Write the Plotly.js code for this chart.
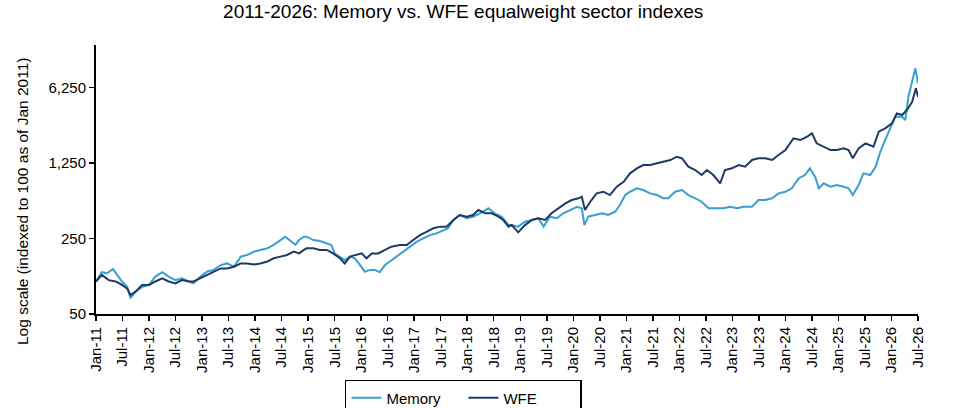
<!DOCTYPE html>
<html>
<head>
<meta charset="utf-8">
<script src="https://cdn.plot.ly/plotly-3.0.1.min.js"></script>
<style>
  body { margin: 0; background: #fff; }
  #chart_myDiv { width: 959px; height: 408px; }
</style>
</head>
<body>
<div id="chart_myDiv"></div>
<script>
// memory equalweight index, x in decimal years
var memYears = [2011.00,2011.11,2011.21,2011.32,2011.40,2011.49,2011.59,2011.65,2011.74,2011.87,
  2012.00,2012.12,2012.25,2012.37,2012.50,2012.62,2012.75,2012.84,2012.97,
  2013.09,2013.22,2013.35,2013.47,2013.60,2013.73,2013.85,2013.98,
  2014.10,2014.23,2014.35,2014.48,2014.57,2014.67,2014.76,2014.83,2014.92,2014.97,
  2015.10,2015.22,2015.35,2015.44,2015.50,2015.60,2015.69,2015.79,2015.88,2015.98,
  2016.07,2016.17,2016.26,2016.35,2016.45,2016.54,2016.67,2016.79,2016.92,
  2017.05,2017.17,2017.30,2017.42,2017.55,2017.64,2017.74,2017.86,2017.99,
  2018.11,2018.24,2018.40,2018.52,2018.65,2018.78,2018.84,2018.96,
  2019.09,2019.22,2019.34,2019.44,2019.56,2019.69,2019.81,2019.94,
  2020.07,2020.16,2020.21,2020.28,2020.41,2020.54,2020.66,2020.79,2020.88,2020.98,
  2021.07,2021.20,2021.32,2021.45,2021.58,2021.70,2021.79,2021.92,
  2022.05,2022.17,2022.30,2022.42,2022.55,2022.68,2022.83,2022.96,
  2023.09,2023.21,2023.37,2023.49,2023.62,2023.75,2023.87,
  2024.00,2024.12,2024.25,2024.37,2024.46,2024.56,2024.63,2024.72,2024.85,2024.97,
  2025.10,2025.19,2025.27,2025.38,2025.47,2025.60,2025.70,2025.79,2025.88,2025.98,
  2026.07,2026.20,2026.26,2026.32,2026.39,2026.45,2026.50];
var memValues = [100,122,119,131,115,100,89,70,80,89,
  93,111,122,111,103,107,100,96,111,
  123,128,142,147,137,170,176,189,
  196,203,218,242,260,237,218,242,260,260,
  242,237,226,218,182,170,158,170,164,142,
  123,128,128,122,142,153,170,189,210,
  234,251,269,279,300,311,371,413,385,
  398,428,476,428,398,333,333,322,
  358,371,385,322,398,385,428,459,
  492,476,333,398,413,428,413,443,511,632,
  678,729,703,655,632,589,589,678,
  703,632,589,548,476,476,476,492,
  476,492,492,568,568,589,655,
  678,729,902,968,1117,934,729,811,755,782,
  755,729,632,782,1004,968,1156,1591,2041,2620,
  3354,3354,3126,5140,7335,9414,6837];

// WFE equalweight index
var wfeYears = [2011.00,2011.11,2011.24,2011.37,2011.49,2011.59,2011.65,2011.74,2011.87,
  2012.00,2012.12,2012.25,2012.37,2012.50,2012.62,2012.75,2012.84,2012.97,
  2013.09,2013.22,2013.35,2013.47,2013.60,2013.73,2013.85,2013.98,
  2014.10,2014.23,2014.35,2014.48,2014.60,2014.73,2014.83,2014.92,2014.97,
  2015.10,2015.22,2015.35,2015.47,2015.60,2015.69,2015.79,2015.91,
  2016.01,2016.10,2016.20,2016.32,2016.45,2016.57,2016.73,2016.86,2016.98,
  2017.11,2017.24,2017.36,2017.49,2017.61,2017.74,2017.86,2017.99,
  2018.11,2018.21,2018.34,2018.46,2018.59,2018.68,2018.78,2018.84,2018.96,
  2019.09,2019.22,2019.34,2019.47,2019.59,2019.72,2019.85,2019.97,
  2020.10,2020.16,2020.22,2020.32,2020.44,2020.57,2020.69,2020.82,2020.95,
  2021.07,2021.20,2021.32,2021.45,2021.58,2021.70,2021.83,2021.95,
  2022.05,2022.17,2022.30,2022.42,2022.52,2022.64,2022.77,2022.86,2022.99,
  2023.12,2023.24,2023.37,2023.49,2023.62,2023.75,2023.87,
  2024.00,2024.15,2024.28,2024.41,2024.50,2024.59,2024.72,2024.85,2024.97,
  2025.10,2025.19,2025.27,2025.38,2025.51,2025.66,2025.76,2025.88,
  2026.01,2026.10,2026.20,2026.29,2026.39,2026.46,2026.50];
var wfeValues = [100,115,103,100,93,86,75,80,93,
  93,100,107,100,96,103,100,100,107,
  115,123,132,132,137,147,147,144,
  147,153,164,170,176,189,182,196,203,
  203,196,196,182,164,147,170,176,
  182,164,182,182,196,210,218,218,242,
  269,289,311,322,322,371,413,398,
  413,459,428,428,398,371,322,333,285,
  333,371,385,371,428,476,529,568,
  589,610,459,548,655,678,632,755,839,
  1004,1117,1198,1198,1242,1285,1333,1430,
  1382,1156,1077,968,1077,968,811,1077,1117,
  1198,1156,1333,1382,1382,1333,1483,
  1649,2116,2041,2190,2355,1902,1770,1649,1649,
  1710,1649,1382,1710,1902,1770,2437,2620,
  2914,3606,3478,3868,4618,6146,5140];

// axis ticks
var xTickVals = [];
var xTickText = [];
for (var yr = 2011; yr <= 2026; yr++) {
  xTickVals.push(yr);
  xTickText.push('Jan-' + String(yr).slice(2));
  xTickVals.push(yr + 0.5);
  xTickText.push('Jul-' + String(yr).slice(2));
}
var yTickVals = [50, 250, 1250, 6250];
var yTickText = ['50', '250', '1,250', '6,250'];
var yTitle = 'Log scale (indexed to 100 as of Jan 2011)';

var memoryColor = '#3a9fd0';
var wfeColor = '#1e3a63';
var fontName = 'Liberation Sans, Arial, sans-serif';

function drawChart() {
  var chart_data = [
    {x: memYears, y: memValues, type: 'scatter', mode: 'lines', name: 'Memory',
      line: {color: memoryColor, width: 2}},
    {x: wfeYears, y: wfeValues, type: 'scatter', mode: 'lines', name: 'WFE',
      line: {color: wfeColor, width: 2}}
  ];

  var layout = {
    width: 959,
    height: 408,
    margin: {l: 96, r: 41, t: 45, b: 94, autoexpand: false},
    paper_bgcolor: '#fff',
    plot_bgcolor: '#fff',
    font: {family: fontName, size: 15, color: '#000'},
    title: {text: '2011-2026: Memory vs. WFE equalweight sector indexes',
      font: {size: 19, color: '#000'}, x: 0.483, xanchor: 'center', y: 0.972, yanchor: 'middle'},
    showlegend: true,
    legend: {orientation: 'h', x: 0.447, xanchor: 'center', y: -0.245, yanchor: 'top',
      entrywidth: 72, tracegroupgap: 0,
      bordercolor: '#000', borderwidth: 1.5, font: {size: 15}, bgcolor: '#fff'},
    // y title drawn as annotation so it can sit a bit below the plot centre, as in the source
    annotations: [{
      text: yTitle, textangle: -90, showarrow: false,
      xref: 'paper', yref: 'paper', x: -0.09, y: 0.42, xanchor: 'center', yanchor: 'middle',
      font: {size: 15.5, color: '#000'}
    }],
    xaxis: {
      type: 'linear',
      range: [2011, 2026.5],
      tickmode: 'array',
      tickvals: xTickVals,
      ticktext: xTickText,
      tickangle: -90,
      ticks: 'outside',
      ticklen: 5,
      tickwidth: 1.5,
      tickcolor: '#000',
      showline: true,
      linecolor: '#000',
      linewidth: 2,
      showgrid: false,
      zeroline: false,
      automargin: false,
      tickfont: {size: 15}
    },
    yaxis: {
      type: 'log',
      range: [Math.log10(50), 4.19],
      tickmode: 'array',
      tickvals: yTickVals,
      ticktext: yTickText,
      ticks: 'outside',
      ticklen: 5,
      tickwidth: 1.5,
      tickcolor: '#000',
      showline: true,
      linecolor: '#000',
      linewidth: 2,
      showgrid: false,
      zeroline: false,
      automargin: false,
      tickfont: {size: 15}
    }
  };
  Plotly.newPlot('chart_myDiv', chart_data, layout, {displayModeBar: false, staticPlot: true});
}

drawChart();
</script>
</body>
</html>
